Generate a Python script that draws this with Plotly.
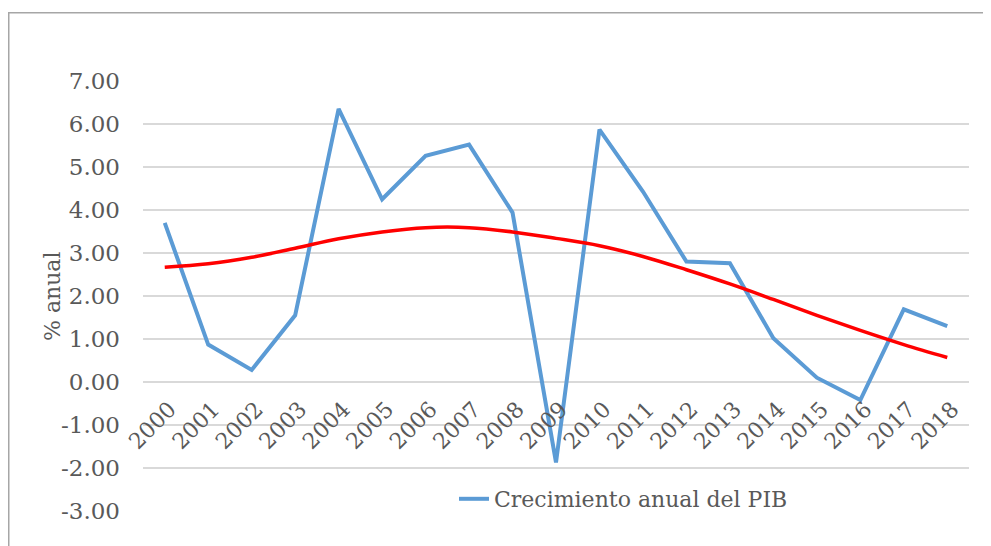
import plotly.graph_objects as go

years = [str(y) for y in range(2000, 2019)]
pib_growth = [3.70, 0.87, 0.28, 1.55, 6.35, 4.25, 5.26, 5.52, 3.94, -1.87,
              5.87, 4.43, 2.80, 2.76, 1.02, 0.10, -0.42, 1.69, 1.30]
trend = [2.67, 2.75, 2.90, 3.11, 3.33, 3.49, 3.59, 3.59, 3.49, 3.34,
         3.17, 2.92, 2.61, 2.28, 1.92, 1.55, 1.20, 0.87, 0.57]
y_ticks = [-3, -2, -1, 0, 1, 2, 3, 4, 5, 6, 7]
y_tick_labels = [f"{v:.2f}" for v in y_ticks]
series_name = "Crecimiento anual del PIB"
y_title = "% anual"

# page body has an 8px margin; figure coordinates are screen - 8
W, H = 983, 538
L, R, T, B = 135, 961, 73, 503
pw, ph = R - L, B - T

FONT = "DejaVu Serif"
GREY = "#595959"

fig = go.Figure()
fig.add_trace(go.Scatter(
    x=years, y=pib_growth, mode="lines", name=series_name,
    line=dict(color="#5B9BD5", width=4), showlegend=True,
))
fig.add_trace(go.Scatter(
    x=years, y=trend, mode="lines", name="Tendencia",
    line=dict(color="#FF0000", width=3.5, shape="spline", smoothing=1.0),
    showlegend=False,
))

ymin, ymax = -3, 7
fig.update_layout(
    width=W, height=H,
    margin=dict(l=L, r=W - R, t=T, b=H - B, pad=0),
    paper_bgcolor="white", plot_bgcolor="white",
    font=dict(family=FONT, color=GREY, size=22),
    showlegend=True,
    legend=dict(
        orientation="h", x=(446 - L) / pw, xanchor="left",
        y=(B - 491) / ph, yanchor="middle",
        bgcolor="rgba(0,0,0,0)", font=dict(family=FONT, size=22, color=GREY),
        itemwidth=30, tracegroupgap=0,
    ),
    xaxis=dict(
        type="category", range=[-0.5, len(years) - 0.5],
        anchor="free", position=(0 - ymin) / (ymax - ymin),
        showgrid=False, zeroline=False, showline=False,
        ticks="", tickangle=-45, ticklabelstandoff=9, ticklabelshift=5,
        tickfont=dict(family=FONT, size=22, color=GREY),
    ),
    yaxis=dict(
        range=[ymin, ymax], tickvals=y_ticks, ticktext=y_tick_labels,
        showgrid=True, gridcolor="#D9D9D9", gridwidth=1.5,
        zeroline=False, showline=False, ticks="",
        ticklabelstandoff=22,
        tickfont=dict(family=FONT, size=23, color=GREY),
    ),
    annotations=[dict(
        text=y_title, textangle=-90, showarrow=False,
        xref="paper", yref="paper",
        x=(44.5 - L) / pw, y=(B - 288.5) / ph,
        xanchor="center", yanchor="middle",
        font=dict(family=FONT, size=22, color=GREY),
    )],
    shapes=[dict(
        type="rect", xref="paper", yref="paper", layer="above",
        x0=(0.75 - L) / pw, x1=(W + 10 - L) / pw,
        y0=(B - (H + 10)) / ph, y1=(B - 4.7) / ph,
        line=dict(color="#A6A6A6", width=1.5), fillcolor="rgba(0,0,0,0)",
    )],
)

fig.write_html("out.html")
